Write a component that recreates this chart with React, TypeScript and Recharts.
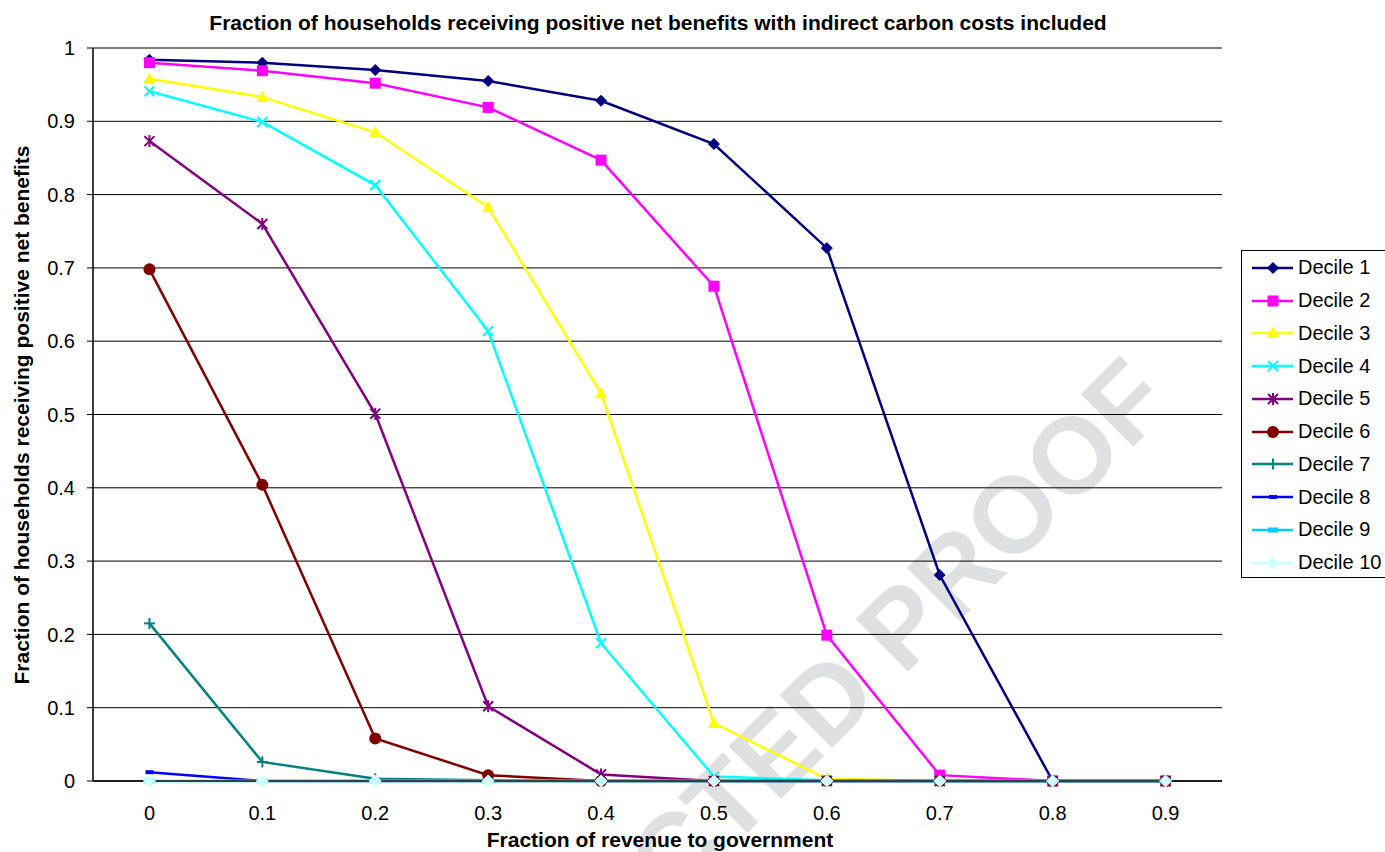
import React from "react";
import { LineChart, Line, XAxis, YAxis, CartesianGrid } from "recharts";

const X_VALUES = [0, 0.1, 0.2, 0.3, 0.4, 0.5, 0.6, 0.7, 0.8, 0.9];
const X_BOUNDARIES = [-0.05, 0.05, 0.15, 0.25, 0.35, 0.45, 0.55, 0.65, 0.75, 0.85, 0.95];
const Y_TICKS = [0, 0.1, 0.2, 0.3, 0.4, 0.5, 0.6, 0.7, 0.8, 0.9, 1];

const DECILE_1 = [0.984, 0.98, 0.97, 0.955, 0.928, 0.869, 0.727, 0.281, 0, 0];
const DECILE_2 = [0.98, 0.969, 0.952, 0.919, 0.847, 0.675, 0.199, 0.008, 0, 0];
const DECILE_3 = [0.958, 0.933, 0.885, 0.783, 0.529, 0.079, 0.003, 0, 0, 0];
const DECILE_4 = [0.941, 0.899, 0.813, 0.614, 0.188, 0.006, 0.001, 0, 0, 0];
const DECILE_5 = [0.873, 0.76, 0.501, 0.102, 0.009, 0, 0, 0, 0, 0];
const DECILE_6 = [0.698, 0.404, 0.058, 0.008, 0, 0, 0, 0, 0, 0];
const DECILE_7 = [0.215, 0.026, 0.003, 0.001, 0, 0, 0, 0, 0, 0];
const DECILE_8 = [0.012, 0, 0, 0, 0, 0, 0, 0, 0, 0];
const DECILE_9 = [0, 0, 0, 0, 0, 0, 0, 0, 0, 0];
const DECILE_10 = [0, 0, 0, 0, 0, 0, 0, 0, 0, 0];

const SERIES_NAMES = ["Decile 1", "Decile 2", "Decile 3", "Decile 4", "Decile 5", "Decile 6", "Decile 7", "Decile 8", "Decile 9", "Decile 10"];
const SERIES_VALUES = [DECILE_1, DECILE_2, DECILE_3, DECILE_4, DECILE_5, DECILE_6, DECILE_7, DECILE_8, DECILE_9, DECILE_10];
const SERIES_COLORS = ["#000080", "#FF00FF", "#FFFF00", "#00FFFF", "#800080", "#800000", "#008080", "#0000FF", "#00CCFF", "#CCFFFF"];
const SERIES_MARKERS = ["diamond", "square", "triangle", "x", "asterisk", "circle", "plus", "smallbar", "bar", "diamondLarge"];

const TITLE = "Fraction of households receiving positive net benefits with indirect carbon costs included";
const X_TITLE = "Fraction of revenue to government";
const Y_TITLE = "Fraction of households receiving positive net benefits";
const WATERMARK = "UNCORRECTED PROOF";

const FONT = '"Liberation Sans", Arial, sans-serif';

const data = X_VALUES.map((x, i) => {
  const row: Record<string, number> = { x };
  SERIES_VALUES.forEach((vals, s) => {
    row["d" + (s + 1)] = vals[i];
  });
  return row;
});

function Marker({ kind, color, cx, cy }: { kind: string; color: string; cx: number; cy: number }) {
  switch (kind) {
    case "diamond": {
      const h = 5.5;
      return <polygon points={`${cx},${cy - h} ${cx + h},${cy} ${cx},${cy + h} ${cx - h},${cy}`} fill={color} stroke={color} strokeWidth={1} />;
    }
    case "diamondLarge": {
      const h = 6;
      return <polygon points={`${cx},${cy - h} ${cx + h},${cy} ${cx},${cy + h} ${cx - h},${cy}`} fill={color} stroke={color} strokeWidth={1} />;
    }
    case "square":
      return <rect x={cx - 5.5} y={cy - 5.5} width={11} height={11} fill={color} />;
    case "triangle":
      return <polygon points={`${cx},${cy - 6.5} ${cx + 6},${cy + 5} ${cx - 6},${cy + 5}`} fill={color} />;
    case "x":
      return (
        <g stroke={color} strokeWidth={2}>
          <line x1={cx - 5} y1={cy - 5} x2={cx + 5} y2={cy + 5} />
          <line x1={cx - 5} y1={cy + 5} x2={cx + 5} y2={cy - 5} />
        </g>
      );
    case "asterisk":
      return (
        <g stroke={color} strokeWidth={2}>
          <line x1={cx - 5} y1={cy - 5} x2={cx + 5} y2={cy + 5} />
          <line x1={cx - 5} y1={cy + 5} x2={cx + 5} y2={cy - 5} />
          <line x1={cx} y1={cy - 6} x2={cx} y2={cy + 6} />
        </g>
      );
    case "circle":
      return <circle cx={cx} cy={cy} r={6} fill={color} />;
    case "plus":
      return (
        <g stroke={color} strokeWidth={2}>
          <line x1={cx - 5.5} y1={cy} x2={cx + 5.5} y2={cy} />
          <line x1={cx} y1={cy - 5.5} x2={cx} y2={cy + 5.5} />
        </g>
      );
    case "smallbar":
      return <rect x={cx - 4} y={cy - 2} width={8} height={4} fill={color} />;
    case "bar":
      return <rect x={cx - 5} y={cy - 2.5} width={10} height={5} fill={color} />;
    default:
      return null;
  }
}

function makeDot(kind: string, color: string) {
  return (props: any) => {
    const { cx, cy, index } = props;
    if (cx == null || cy == null) return <g key={`dot-${index}`} />;
    return (
      <g key={`dot-${kind}-${index}`}>
        <Marker kind={kind} color={color} cx={cx} cy={cy} />
      </g>
    );
  };
}

const emptyTick = () => <g />;

function LegendBox() {
  return (
    <div
      style={{
        position: "absolute",
        left: 1241,
        top: 250,
        width: 150,
        height: 328,
        border: "1px solid #000",
        background: "#fff",
        boxSizing: "border-box",
        fontFamily: FONT,
        fontSize: 20,
        color: "#000",
        zIndex: 3,
      }}
    >
      {SERIES_NAMES.map((name, i) => (
        <div key={name} style={{ position: "absolute", left: 0, top: 0.5 + i * 32.75, height: 32.75, display: "flex", alignItems: "center", whiteSpace: "nowrap" }}>
          <svg width={52} height={20} style={{ display: "block" }}>
            <line x1={10} y1={10} x2={51} y2={10} stroke={SERIES_COLORS[i]} strokeWidth={2.5} />
            <Marker kind={SERIES_MARKERS[i]} color={SERIES_COLORS[i]} cx={31} cy={10} />
          </svg>
          <span style={{ marginLeft: 4 }}>{name}</span>
        </div>
      ))}
    </div>
  );
}

export default function App() {
  return (
    <div style={{ position: "absolute", left: 0, top: 0, width: 1385, height: 852, overflow: "hidden", background: "#fff" }}>
      <svg width={1385} height={852} style={{ position: "absolute", left: 0, top: 0, zIndex: 0 }}>
        <text
          x={705}
          y={822}
          textAnchor="middle"
          dominantBaseline="central"
          transform="rotate(-45 705 822)"
          fontFamily={FONT}
          fontWeight="bold"
          fontSize={108}
          fill="#dfe0e2"
        >
          {WATERMARK}
        </text>
      </svg>
      <div style={{ position: "absolute", left: 0, top: 0, zIndex: 1 }}>
        <LineChart width={1385} height={852} data={data} margin={{ top: 48, right: 163, bottom: 31, left: 33 }}>
          <CartesianGrid horizontal vertical={false} stroke="#000" strokeWidth={1} xAxisId="labels" />
          <XAxis
            xAxisId="marks"
            dataKey="x"
            type="number"
            domain={[-0.05, 0.95]}
            ticks={X_BOUNDARIES}
            height={0}
            axisLine={false}
            tickLine={{ stroke: "#000", strokeWidth: 1 }}
            tickSize={7}
            tick={emptyTick}
            interval={0}
          />
          <XAxis
            xAxisId="labels"
            dataKey="x"
            type="number"
            domain={[-0.05, 0.95]}
            ticks={X_VALUES}
            height={40}
            axisLine={{ stroke: "#000", strokeWidth: 1.5 }}
            tickLine={false}
            tickSize={0}
            tickMargin={25}
            interval={0}
            tick={{ fill: "#000", fontSize: 20, fontFamily: FONT }}
          />
          <YAxis
            type="number"
            domain={[0, 1]}
            ticks={Y_TICKS}
            width={60}
            interval={0}
            axisLine={{ stroke: "#000", strokeWidth: 1.5 }}
            tickLine={{ stroke: "#000", strokeWidth: 1 }}
            tickSize={6}
            tickMargin={12}
            tick={{ fill: "#000", fontSize: 20, fontFamily: FONT }}
          />
          <YAxis
            yAxisId="right"
            orientation="right"
            type="number"
            domain={[0, 1]}
            width={0}
            tick={false}
            tickLine={false}
            axisLine={{ stroke: "#000", strokeWidth: 1.5 }}
          />
          {SERIES_NAMES.map((name, i) => (
            <Line
              key={name}
              name={name}
              xAxisId="labels"
              type="linear"
              dataKey={"d" + (i + 1)}
              stroke={SERIES_COLORS[i]}
              strokeWidth={2.5}
              dot={makeDot(SERIES_MARKERS[i], SERIES_COLORS[i])}
              activeDot={false}
              isAnimationActive={false}
            />
          ))}
        </LineChart>
      </div>
      <svg width={1385} height={852} style={{ position: "absolute", left: 0, top: 0, zIndex: 2, pointerEvents: "none" }}>
        <text x={658} y={30} textAnchor="middle" fontFamily={FONT} fontWeight="bold" fontSize={21} fill="#000">
          {TITLE}
        </text>
        <text x={660} y={847} textAnchor="middle" fontFamily={FONT} fontWeight="bold" fontSize={21} fill="#000">
          {X_TITLE}
        </text>
        <text
          x={29}
          y={415}
          textAnchor="middle"
          transform="rotate(-90 29 415)"
          fontFamily={FONT}
          fontWeight="bold"
          fontSize={21}
          fill="#000"
        >
          {Y_TITLE}
        </text>
      </svg>
      <LegendBox />
    </div>
  );
}
